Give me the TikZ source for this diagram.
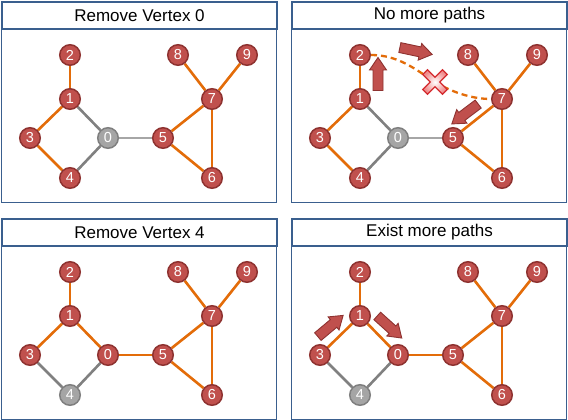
\documentclass[tikz,border=0pt]{standalone}
\usepackage{fontspec}
\setmainfont{Liberation Sans}
\definecolor{vred}{HTML}{C0504D}
\definecolor{vredd}{HTML}{8E3230}
\definecolor{vgrayf}{HTML}{A5A5A5}
\definecolor{vgrayd}{HTML}{7F7F7F}
\definecolor{eorange}{HTML}{E36C09}
\definecolor{egray}{HTML}{808080}
\definecolor{elgray}{HTML}{A6A6A6}
\definecolor{fblue}{HTML}{3A5F8E}
\definecolor{xred}{HTML}{D42A2E}
\definecolor{xpink}{HTML}{F08C8C}
\pgfdeclarelayer{bg}
\pgfsetlayers{bg,main}
\tikzset{
  vtx/.style={circle, fill=vred, draw=vredd, line width=1.5pt, minimum size=20.5pt, inner sep=0pt, text=white, font=\fontsize{14.5}{14.5}\selectfont},
  vgr/.style={vtx, fill=vgrayf, draw=vgrayd},
  oe/.style={draw=eorange, line width=2.6pt},
  ge/.style={draw=egray, line width=2.6pt},
  lge/.style={draw=elgray, line width=2.6pt},
  panelframe/.style={draw=fblue, line width=1.3pt, minimum width=275pt, minimum height=201pt, anchor=north west, inner sep=0pt},
  titlebox/.style={draw=fblue, line width=2pt, fill=white, minimum width=275pt, minimum height=27pt, anchor=north west, inner sep=0pt, font=\fontsize{17}{17}\selectfont},
  blockarrow/.style={fill=vred, draw=vredd, line width=0.9pt, line join=miter},
  dashcurve/.style={draw=eorange, line width=2.3pt, dash pattern=on 6pt off 4pt},
}
\newcommand\blockarr[3]{% name, center, angle
  \coordinate (#1) at (#2);
  \begin{scope}[shift={(#1)}, rotate=#3]
    \path[blockarrow] (-16.5,-5) -- (4,-5) -- (4,-8.5) -- (16.5,0) -- (4,8.5) -- (4,5) -- (-16.5,5) -- cycle;
  \end{scope}
}
\newcommand\vertices[3]{%
  \node[vtx] (#1v2) at (70,55) {2};
  \node[vtx] (#1v1) at (70,99) {1};
  \node[vtx] (#1v3) at (30,138) {3};
  \node[#2] (#1v0) at (108,138) {0};
  \node[#3] (#1v4) at (70,178) {4};
  \node[vtx] (#1v5) at (163,138) {5};
  \node[vtx] (#1v8) at (178,55) {8};
  \node[vtx] (#1v9) at (247,55) {9};
  \node[vtx] (#1v7) at (212,99) {7};
  \node[vtx] (#1v6) at (212,178) {6};
}
\newcommand\rightedges[1]{%
  \draw[oe] (#1v2) -- (#1v1);
  \draw[oe] (#1v1) -- (#1v3);
  \draw[oe] (#1v5) -- (#1v7);
  \draw[oe] (#1v5) -- (#1v6);
  \draw[oe] (#1v7) -- (#1v6);
  \draw[oe] (#1v8) -- (#1v7);
  \draw[oe] (#1v9) -- (#1v7);
}
\begin{document}
\begin{tikzpicture}[x=1pt,y=-1pt]
\begin{pgfonlayer}{bg}
  \fill[white] (0,0) rectangle (568,420);
\end{pgfonlayer}
\useasboundingbox (0,0) rectangle (568,420);

% Panel 1
\begin{scope}
  \node[panelframe] (f1) at (1,1) {};
  \node[titlebox] (t1) at (1,1) {Remove Vertex 0};
  \vertices{a}{vgr}{vtx}
  \begin{pgfonlayer}{bg}
    \rightedges{a}
    \draw[oe] (av3) -- (av4);
    \draw[ge] (av1) -- (av0);
    \draw[ge] (av4) -- (av0);
    \draw[lge] (av0) -- (av5);
  \end{pgfonlayer}
\end{scope}

% Panel 2
\begin{scope}[shift={(290,0)}]
  \node[panelframe] (f2) at (1,1) {};
  \node[titlebox] (t2) at (1,1) {No more paths};
  \vertices{b}{vgr}{vtx}
  \begin{pgfonlayer}{bg}
    \rightedges{b}
    \draw[oe] (bv3) -- (bv4);
    \draw[ge] (bv1) -- (bv0);
    \draw[ge] (bv4) -- (bv0);
    \draw[lge] (bv0) -- (bv5);
  \end{pgfonlayer}
  \coordinate (bx) at (145,82);
  \draw[dashcurve] (bv2.east) .. controls (108,55) and (125,69) .. (bx) .. controls (165,94) and (185,99) .. (bv7.west);
  \blockarr{ba1}{88,74}{90}
  \blockarr{ba2}{126,51}{-12}
  \blockarr{ba3}{175,114}{217}
  \begin{scope}[shift={(bx)}, rotate=45]
    \path[draw=xred, line width=1.2pt, inner color=white, outer color=xpink]
      (-3.3,14) -- (3.3,14) -- (3.3,3.3) -- (14,3.3) -- (14,-3.3) -- (3.3,-3.3)
      -- (3.3,-14) -- (-3.3,-14) -- (-3.3,-3.3) -- (-14,-3.3) -- (-14,3.3) -- (-3.3,3.3) -- cycle;
  \end{scope}
\end{scope}

% Panel 3
\begin{scope}[shift={(0,217)}]
  \node[panelframe] (f3) at (1,1) {};
  \node[titlebox] (t3) at (1,1) {Remove Vertex 4};
  \vertices{c}{vtx}{vgr}
  \begin{pgfonlayer}{bg}
    \rightedges{c}
    \draw[ge] (cv3) -- (cv4);
    \draw[oe] (cv1) -- (cv0);
    \draw[ge] (cv4) -- (cv0);
    \draw[oe] (cv0) -- (cv5);
  \end{pgfonlayer}
\end{scope}

% Panel 4
\begin{scope}[shift={(290,217)}]
  \node[panelframe] (f4) at (1,1) {};
  \node[titlebox] (t4) at (1,1) {Exist more paths};
  \vertices{d}{vtx}{vgr}
  \begin{pgfonlayer}{bg}
    \rightedges{d}
    \draw[ge] (dv3) -- (dv4);
    \draw[oe] (dv1) -- (dv0);
    \draw[ge] (dv4) -- (dv0);
    \draw[oe] (dv0) -- (dv5);
  \end{pgfonlayer}
  \blockarr{da1}{40.5,109}{40}
  \blockarr{da2}{99.5,110}{-42}
\end{scope}
\end{tikzpicture}
\end{document}
